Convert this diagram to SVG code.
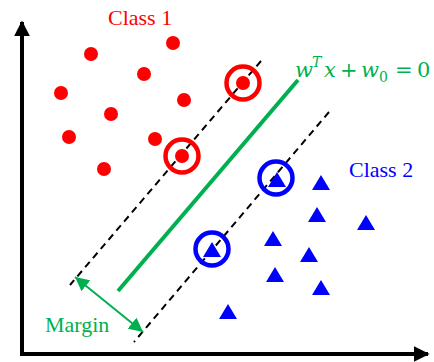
<svg xmlns="http://www.w3.org/2000/svg" width="434" height="362" viewBox="0 0 434 362">
<style>
.red{fill:#ff0000}
.ring{fill:none;stroke-width:4.5}
.tri{fill:#0000ff}
.dash{stroke:#000;stroke-width:2;stroke-dasharray:7 5;fill:none}
.lbl{font-family:"Liberation Serif",serif;font-size:22px}
.eqi{font-family:"DejaVu Serif","Liberation Serif",serif;font-style:italic;fill:#00b050}
.eqn{font-family:"DejaVu Serif","Liberation Serif",serif;font-style:normal;fill:#00b050}
</style>
<defs>
<marker id="ah" viewBox="0 0 10 10" refX="10" refY="5" markerWidth="14" markerHeight="14" markerUnits="userSpaceOnUse" orient="auto-start-reverse"><path d="M0,0 L10,5 L0,10 z" fill="#00b050"/></marker>
<marker id="bk" viewBox="0 0 10 10" refX="9" refY="5" markerWidth="16" markerHeight="16" markerUnits="userSpaceOnUse" orient="auto"><path d="M0,0 L10,5 L0,10 z" fill="#000"/></marker>
</defs>
<rect width="434" height="362" fill="#fff"/>
<g id="axes">
<line x1="22" y1="354" x2="22" y2="22" stroke="#000" stroke-width="4" marker-end="url(#bk)"/>
<line x1="20" y1="354" x2="428" y2="354" stroke="#000" stroke-width="4" marker-end="url(#bk)"/>
</g>
<g id="connectors">
<line class="dash" x1="261" y1="61" x2="70" y2="285"/>
<line class="dash" x1="329" y1="112" x2="134" y2="342"/>
<line x1="298" y1="80" x2="118" y2="291" stroke="#00b050" stroke-width="4"/>
<line x1="75" y1="277" x2="143" y2="332" stroke="#00b050" stroke-width="2" marker-start="url(#ah)" marker-end="url(#ah)"/>
</g>
<g id="class1">
<circle class="red" cx="173" cy="43" r="7"/>
<circle class="red" cx="91" cy="54" r="7"/>
<circle class="red" cx="144" cy="74" r="7"/>
<circle class="red" cx="61" cy="93" r="7"/>
<circle class="red" cx="184" cy="100" r="7"/>
<circle class="red" cx="111" cy="114" r="7"/>
<circle class="red" cx="69" cy="137" r="7"/>
<circle class="red" cx="155" cy="139" r="7"/>
<circle class="red" cx="104" cy="169" r="7"/>
<circle class="red" cx="243" cy="83" r="7"/>
<circle class="ring" stroke="#ff0000" cx="243" cy="83" r="16.5"/>
<circle class="red" cx="182" cy="156" r="7"/>
<circle class="ring" stroke="#ff0000" cx="182" cy="156" r="16.5"/>
</g>
<g id="class2">
<path class="tri" d="M277,172 l9,15 h-18 z"/>
<circle class="ring" stroke="#0000ff" cx="276" cy="178" r="16.5"/>
<path class="tri" d="M212,242 l9,15 h-18 z"/>
<circle class="ring" stroke="#0000ff" cx="212" cy="249" r="16.5"/>
<path class="tri" d="M321,175 l9,15 h-18 z"/>
<path class="tri" d="M317,207 l9,15 h-18 z"/>
<path class="tri" d="M366,215 l9,15 h-18 z"/>
<path class="tri" d="M273,231 l9,15 h-18 z"/>
<path class="tri" d="M309,247 l9,15 h-18 z"/>
<path class="tri" d="M275,267 l9,15 h-18 z"/>
<path class="tri" d="M321,280 l9,15 h-18 z"/>
<path class="tri" d="M228,304 l9,15 h-18 z"/>
</g>
<g id="labels">
<text class="lbl" x="108" y="25" fill="#ff0000">Class 1</text>
<text class="lbl" x="349" y="177" fill="#0000ff">Class 2</text>
<text class="lbl" x="45" y="332" fill="#00b050">Margin</text>
</g>
<g id="equation">
<text class="eqi" x="295" y="77" font-size="21">w</text>
<text class="eqi" x="312" y="67" font-size="14">T</text>
<text class="eqi" x="324" y="77" font-size="21">x</text>
<text class="eqn" x="340" y="77" font-size="21">+</text>
<text class="eqi" x="361" y="77" font-size="21">w</text>
<text class="eqn" x="379" y="82" font-size="14">0</text>
<text class="eqn" x="395" y="77" font-size="21">=</text>
<text class="eqn" x="417" y="77" font-size="21">0</text>
</g>
</svg>
